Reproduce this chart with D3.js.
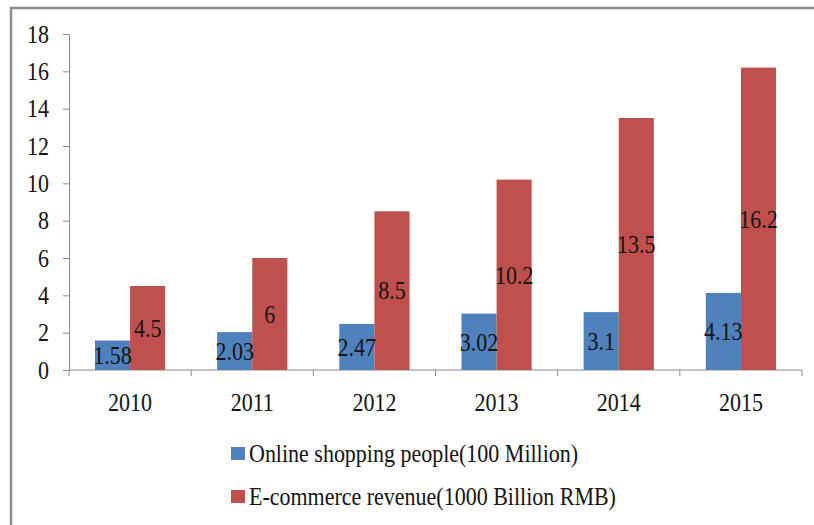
<!DOCTYPE html>
<html>
<head>
<meta charset="utf-8">
<script src="https://cdn.jsdelivr.net/npm/d3@7"></script>
<style>
  body { margin: 0; background: #fff; }
  text { font-family: "Liberation Serif", "Times New Roman", serif; fill: #141414; }
</style>
</head>
<body>
<div id="chart"></div>
<script>
const years = ["2010", "2011", "2012", "2013", "2014", "2015"];
const seriesNames = ["Online shopping people(100 Million)", "E-commerce revenue(1000 Billion RMB)"];
const onlineShoppers = [1.58, 2.03, 2.47, 3.02, 3.1, 4.13];
const ecomRevenue = [4.5, 6, 8.5, 10.2, 13.5, 16.2];
const yTicks = [0, 2, 4, 6, 8, 10, 12, 14, 16, 18];
const colors = ["#4f81bd", "#c0504d"];

const W = 814, H = 525;
const plot = {left: 69, right: 802, top: 34, bottom: 370};
const fontPx = "25px";   // the source picture is a bit squashed sideways
const squash = 0.88;

const svg = d3.select("#chart")
              .append("svg")
              .attr("width", W)
              .attr("height", H);

// chart frame (runs off the right/bottom edge like the screenshot)
svg.append("rect")
   .attr("x", 11).attr("y", 8)
   .attr("width", W).attr("height", H)
   .attr("fill", "none")
   .attr("stroke", "#8c8c8c")
   .attr("stroke-width", 2.5);

const data = years.map((y, i) => ({year: y, values: [onlineShoppers[i], ecomRevenue[i]]}));

const x0 = d3.scaleBand()
             .domain(years)
             .range([plot.left, plot.right])
             .padding(0);

const x1 = d3.scaleBand()
             .domain([0, 1])
             .range([0, x0.bandwidth()])
             .paddingInner(0)
             .paddingOuter(0.74);

const y = d3.scaleLinear()
            .domain([0, 18])
            .range([plot.bottom, plot.top]);

// y axis
const yAxis = svg.append("g")
   .attr("transform", `translate(${plot.left},0)`)
   .call(d3.axisLeft(y).tickValues(yTicks).tickSize(6).tickSizeOuter(0).tickPadding(14));
yAxis.selectAll("path, line").attr("stroke", "#8c8c8c");
yAxis.selectAll("text").style("font-size", fontPx);

// x axis line + boundary ticks
const xg = svg.append("g");
xg.append("line")
  .attr("x1", plot.left).attr("x2", plot.right)
  .attr("y1", plot.bottom).attr("y2", plot.bottom)
  .attr("stroke", "#8c8c8c");
xg.selectAll(".xtick")
  .data(years.map(d => x0(d)).concat([plot.right]))
  .enter().append("line")
  .attr("x1", d => d).attr("x2", d => d)
  .attr("y1", plot.bottom).attr("y2", plot.bottom + 6)
  .attr("stroke", "#8c8c8c");
xg.selectAll(".xlab")
  .data(years)
  .enter().append("text")
  .attr("x", d => x0(d) + x0.bandwidth() / 2)
  .attr("y", 411)
  .attr("text-anchor", "middle")
  .style("font-size", fontPx)
  .text(d => d);

// bars
const groups = svg.selectAll(".grp")
   .data(data)
   .enter().append("g")
   .attr("transform", d => `translate(${x0(d.year)},0)`);

groups.selectAll("rect")
   .data(d => d.values.map((v, i) => ({i, v})))
   .enter().append("rect")
   .attr("x", d => x1(d.i))
   .attr("width", x1.bandwidth())
   .attr("y", d => y(d.v))
   .attr("height", d => y(0) - y(d.v))
   .attr("fill", d => colors[d.i]);

groups.selectAll(".lbl")
   .data(d => d.values.map((v, i) => ({i, v})))
   .enter().append("text")
   .attr("x", d => x1(d.i) + x1.bandwidth() / 2)
   .attr("y", d => (y(d.v) + y(0)) / 2)
   .attr("dy", "0.35em")
   .attr("text-anchor", "middle")
   .style("font-size", fontPx)
   .text(d => d.v);

// legend
const legend = svg.selectAll(".leg")
   .data(seriesNames)
   .enter().append("g")
   .attr("transform", (d, i) => `translate(231,${453 + i * 43})`);
legend.append("rect")
   .attr("x", 0).attr("y", -6)
   .attr("width", 14).attr("height", 13)
   .attr("fill", (d, i) => colors[i]);
legend.append("text")
   .attr("x", 18)
   .attr("dy", "0.35em")
   .style("font-size", fontPx)
   .text(d => d);

// narrow every label horizontally around its anchor point
svg.selectAll("text").each(function() {
  const t = d3.select(this);
  const tx = +t.attr("x") || 0, ty = +t.attr("y") || 0;
  t.attr("x", 0).attr("y", 0)
   .attr("transform", `translate(${tx},${ty}) scale(${squash},1)`);
});
</script>
</body>
</html>
